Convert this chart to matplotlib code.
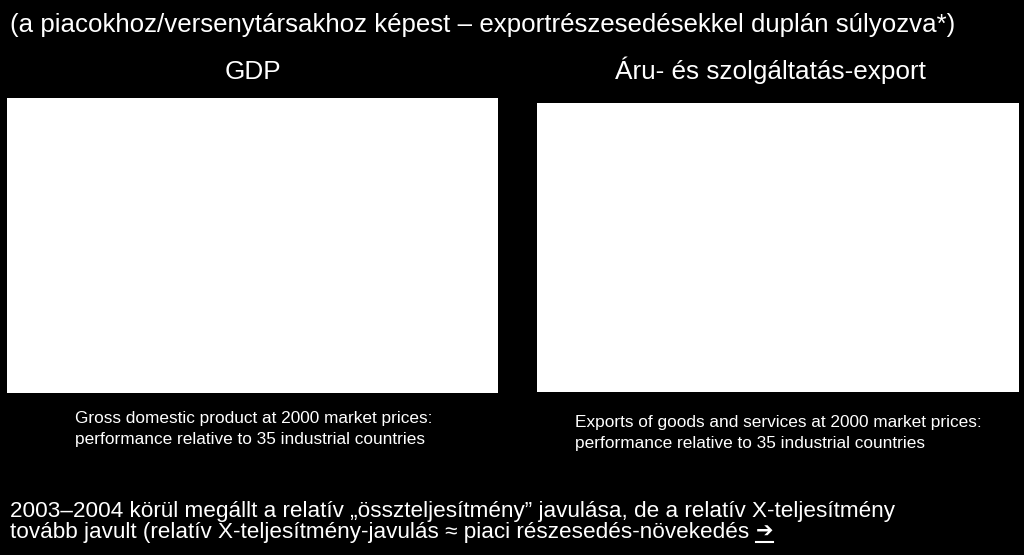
import matplotlib
matplotlib.use("Agg")
import matplotlib.pyplot as plt

# Texts of the slide
title = "(a piacokhoz/versenytársakhoz képest – exportrészesedésekkel duplán súlyozva*)"
panel_titles = ["GDP", "Áru- és szolgáltatás-export"]
panel_captions = [
    "Gross domestic product at 2000 market prices:\nperformance relative to 35 industrial countries",
    "Exports of goods and services at 2000 market prices:\nperformance relative to 35 industrial countries",
]
footer_lines = [
    "2003–2004 körül megállt a relatív „összteljesítmény” javulása, de a relatív X-teljesítmény",
    "tovább javult (relatív X-teljesítmény-javulás ≈ piaci részesedés-növekedés ",
]
arrow = "➔"

W, H = 1024, 555
plt.rcParams["font.family"] = ["Liberation Sans", "DejaVu Sans"]

fig = plt.figure(figsize=(W / 100, H / 100), dpi=100)
fig.patch.set_facecolor("black")


def fx(px):
    return px / W


def fy(py):
    return 1 - py / H


# empty white panels (pictures of the charts)
panels = [(7, 98, 498, 393), (537, 103, 1019, 392)]
for x0, y0, x1, y1 in panels:
    ax = fig.add_axes([fx(x0), fy(y1), fx(x1 - x0), (y1 - y0) / H])
    ax.set_facecolor("white")
    ax.set_xticks([])
    ax.set_yticks([])
    for s in ax.spines.values():
        s.set_visible(False)

fig.text(fx(10), fy(32), title, color="white", fontsize=18.6, va="baseline", ha="left")

centres = [253, 770]
for cx, t in zip(centres, panel_titles):
    fig.text(fx(cx), fy(79), t, color="white", fontsize=18.8, va="baseline", ha="center")

cap_pos = [(75, 423), (575, 427)]
for (cx, cy), t in zip(cap_pos, panel_captions):
    l1, l2 = t.split("\n")
    fig.text(fx(cx), fy(cy), l1, color="white", fontsize=12.4, va="baseline", ha="left")
    fig.text(fx(cx), fy(cy + 21), l2, color="white", fontsize=12.4, va="baseline", ha="left")

fig.text(fx(10), fy(517), footer_lines[0], color="white", fontsize=16.2, va="baseline", ha="left")
t2 = fig.text(fx(10), fy(538), footer_lines[1], color="white", fontsize=16.2, va="baseline", ha="left")

# underlined arrow after the second line
fig.canvas.draw()
bb = t2.get_window_extent()
ta = fig.text(bb.x1 / W, fy(538), arrow, color="white", fontsize=15, va="baseline", ha="left",
              family=["DejaVu Sans"], fontweight="bold")
fig.canvas.draw()
ab = ta.get_window_extent()
fig.add_artist(plt.Line2D([ab.x0 / W, ab.x1 / W], [fy(542), fy(542)], color="white", linewidth=1.5))

fig.savefig("out.png", dpi=100, facecolor="black")
